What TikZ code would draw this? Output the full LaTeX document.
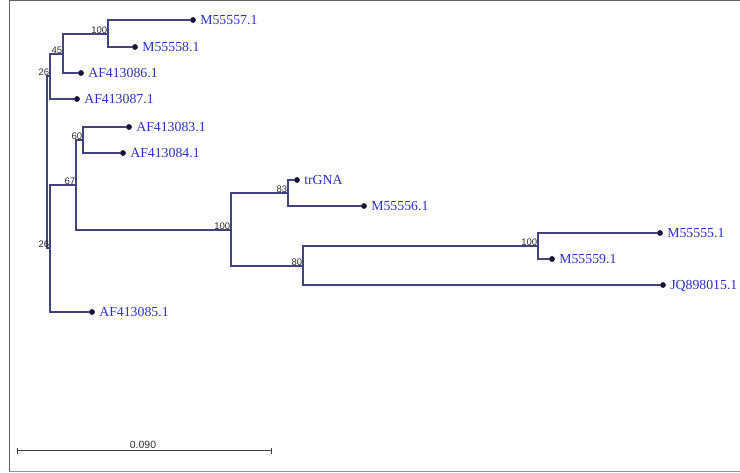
\documentclass[tikz,border=0pt]{standalone}
\usepackage{fontspec}
\setmainfont{Liberation Serif}
\newfontfamily\supfont{Liberation Sans}
\definecolor{branchc}{RGB}{66,66,126}
\definecolor{dotc}{RGB}{22,22,52}
\definecolor{leafc}{RGB}{46,46,198}
\definecolor{supc}{RGB}{45,45,45}
\definecolor{framec}{RGB}{95,95,95}
\begin{document}
\begin{tikzpicture}[x=1pt, y=-1pt,
  branch/.style={draw=branchc, line width=1.5pt},
  tip/.style={circle, fill=dotc, inner sep=0pt, minimum size=5.8pt},
  leaftext/.style={font=\fontsize{13.8}{14}\selectfont, text=leafc, inner sep=0pt,
    text height=9pt, text depth=0pt, xshift=4pt},
  support/.style={font=\supfont\fontsize{9.5}{9.5}\selectfont, text=supc, inner sep=0.6pt,
    anchor=south east},
  scalebar/.style={draw=black!75, line width=1pt}]
\useasboundingbox (0,0) rectangle (740,473);

% frame
\draw[framec, line width=1pt] (9,471.5) -- (9,0.6) -- (740,0.6);
\draw[framec!70, line width=1.6pt] (9,471.5) -- (740,471.5);

% internal nodes
\coordinate (root) at (47,162);
\coordinate (c26a) at (50,76);
\coordinate (c45) at (63,54);
\coordinate (c100a) at (108,34);
\coordinate (cX) at (50,248);
\coordinate (c67) at (76,185);
\coordinate (c60) at (83,140);
\coordinate (c100b) at (231,230);
\coordinate (c83) at (288,193);
\coordinate (c80) at (303,266);
\coordinate (c100c) at (538,246);

% leaves
\node[tip, label={[leaftext]east:M55557.1}] (m57) at (193,20) {};
\node[tip, label={[leaftext]east:M55558.1}] (m58) at (135,47) {};
\node[tip, label={[leaftext]east:AF413086.1}] (af86) at (81,73) {};
\node[tip, label={[leaftext]east:AF413087.1}] (af87) at (77,99) {};
\node[tip, label={[leaftext]east:AF413083.1}] (af83) at (129,127) {};
\node[tip, label={[leaftext]east:AF413084.1}] (af84) at (123,153) {};
\node[tip, label={[leaftext]east:trGNA}] (trg) at (297,180) {};
\node[tip, label={[leaftext]east:M55556.1}] (m56) at (364,206) {};
\node[tip, label={[leaftext]east:M55555.1}] (m55) at (660,233) {};
\node[tip, label={[leaftext]east:M55559.1}] (m59) at (552,259) {};
\node[tip, label={[leaftext]east:JQ898015.1}] (jq) at (663,285) {};
\node[tip, label={[leaftext]east:AF413085.1}] (af85) at (92,312) {};

% branches
\path[branch]
  (root) |- (c26a)  (root) |- (cX)
  (c26a) |- (c45)   (c26a) |- (af87)
  (c45) |- (c100a)  (c45) |- (af86)
  (c100a) |- (m57)  (c100a) |- (m58)
  (cX) |- (c67)     (cX) |- (af85)
  (c67) |- (c60)    (c67) |- (c100b)
  (c60) |- (af83)   (c60) |- (af84)
  (c100b) |- (c83)  (c100b) |- (c80)
  (c83) |- (trg)    (c83) |- (m56)
  (c80) |- (c100c)  (c80) |- (jq)
  (c100c) |- (m55)  (c100c) |- (m59);

% bootstrap support values
\node[support] at (c100a) {100};
\node[support] at (c45) {45};
\node[support] at (c26a) {26};
\node[support] at (cX) {26};
\node[support] at (c67) {67};
\node[support] at (c60) {60};
\node[support] at (c100b) {100};
\node[support] at (c83) {83};
\node[support] at (c80) {80};
\node[support] at (c100c) {100};

% scale bar
\coordinate (sbl) at (17,451);
\coordinate (sbr) at (271,451);
\draw[scalebar] (sbl) -- (sbr);
\draw[scalebar] ([yshift=-3pt]sbl) -- ([yshift=3pt]sbl);
\draw[scalebar] ([yshift=-3pt]sbr) -- ([yshift=3pt]sbr);
\node[font=\supfont\fontsize{10.5}{10.5}\selectfont, text=black!80, anchor=south, inner sep=2pt]
  (sblabel) at (143,451) {0.090};
\end{tikzpicture}
\end{document}
